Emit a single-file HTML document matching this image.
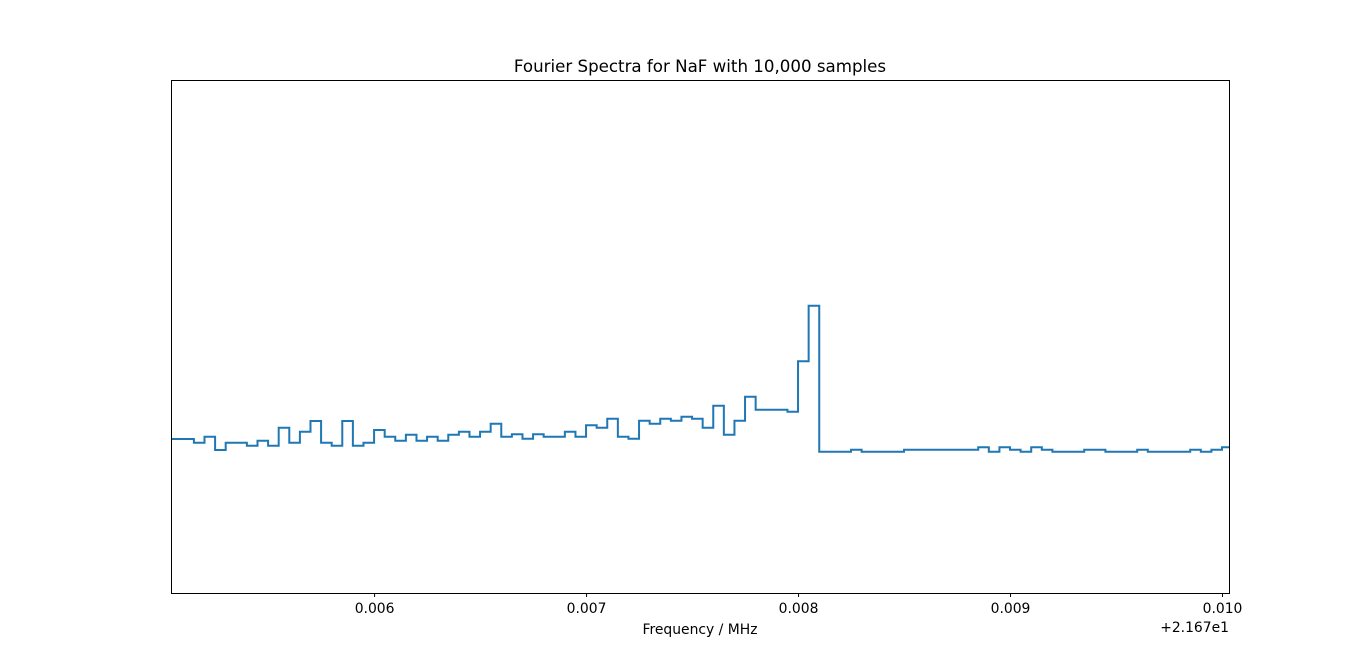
<!DOCTYPE html>
<html><head><meta charset="utf-8"><style>
html,body{margin:0;padding:0;background:#fff;}
svg text{font-family:"DejaVu Sans","Liberation Sans",sans-serif;fill:#000;}
</style></head><body>
<svg id="chart" width="1366" height="666" xmlns="http://www.w3.org/2000/svg">
<rect width="1366" height="666" fill="#fff"/>
<text x="700" y="72" font-size="16.67" text-anchor="middle">Fourier Spectra for NaF with 10,000 samples</text>
<defs><clipPath id="plotclip"><rect x="171" y="80" width="1058" height="513"/></clipPath></defs>
<g id="xticks"></g>
<path id="series" fill="none" stroke="#1f77b4" stroke-width="2" clip-path="url(#plotclip)"/>
<rect x="171.5" y="80.5" width="1058" height="513" fill="none" stroke="#000" stroke-width="1"/>
<text x="700" y="634" font-size="13.9" text-anchor="middle">Frequency / MHz</text>
<text x="1229" y="632" font-size="13.9" text-anchor="end">+2.167e1</text>
</svg>
<script>
const binStart = 0.005;
const binWidth = 0.00005;
const values = [154,154,154,150.3,156.3,143,150.3,150.3,147.3,152.3,147.3,165.3,150.3,161.3,172,150.3,147.3,172,147.3,150.3,
163,156.3,152.3,158.3,152.3,156.3,152.3,158.3,161.3,156.3,161.3,169.3,156.3,158.7,154.3,158.7,156.3,156.3,161.3,156.3,
167.7,165.3,174.3,156.3,154.3,172.3,169.3,174.3,172.3,176.3,174.3,165.3,187.3,158.3,172.3,196.3,183.3,183.3,183.3,181.3,
231.7,287.3,141.3,141.3,141.3,143.3,141.3,141.3,141.3,141.3,143.3,143.3,143.3,143.3,143.3,143.3,143.3,145.7,141.3,145.7,
143.3,141.3,145.7,143.3,141.3,141.3,141.3,143.3,143.3,141.3,141.3,141.3,143.3,141.3,141.3,141.3,141.3,143.3,141.3,143.3,145.7];
const xTicks = [0.006, 0.007, 0.008, 0.009, 0.010];
const xTickLabels = ["0.006","0.007","0.008","0.009","0.010"];
const xMin = 0.005042, xMax = 0.010033, yMin = 0, yMax = 513;
const L = 171, R = 1229, T = 80, B = 593;
function xs(v){ return L + (v - xMin) / (xMax - xMin) * (R - L); }
function ys(v){ return B - (v - yMin) / (yMax - yMin) * (B - T); }
let d = "";
values.forEach((v, i) => {
  const x0 = xs(binStart + i * binWidth), x1 = xs(binStart + (i + 1) * binWidth), y = ys(v);
  d += (i === 0 ? "M" + x0 + "," + y : "L" + x0 + "," + y) + "L" + x1 + "," + y;
});
document.getElementById("series").setAttribute("d", d);
const g = document.getElementById("xticks");
const NS = "http://www.w3.org/2000/svg";
xTicks.forEach((t, i) => {
  const x = xs(t) + 0.5;
  const ln = document.createElementNS(NS, "line");
  ln.setAttribute("x1", x); ln.setAttribute("x2", x);
  ln.setAttribute("y1", B); ln.setAttribute("y2", B + 4);
  ln.setAttribute("stroke", "#000");
  
  
  g.appendChild(ln);
  const tx = document.createElementNS(NS, "text");
  tx.setAttribute("x", x); tx.setAttribute("y", B + 20);
  tx.setAttribute("font-size", "13.9"); tx.setAttribute("text-anchor", "middle");
  tx.textContent = xTickLabels[i];
  
  
  g.appendChild(tx);
});
</script>
</body></html>
